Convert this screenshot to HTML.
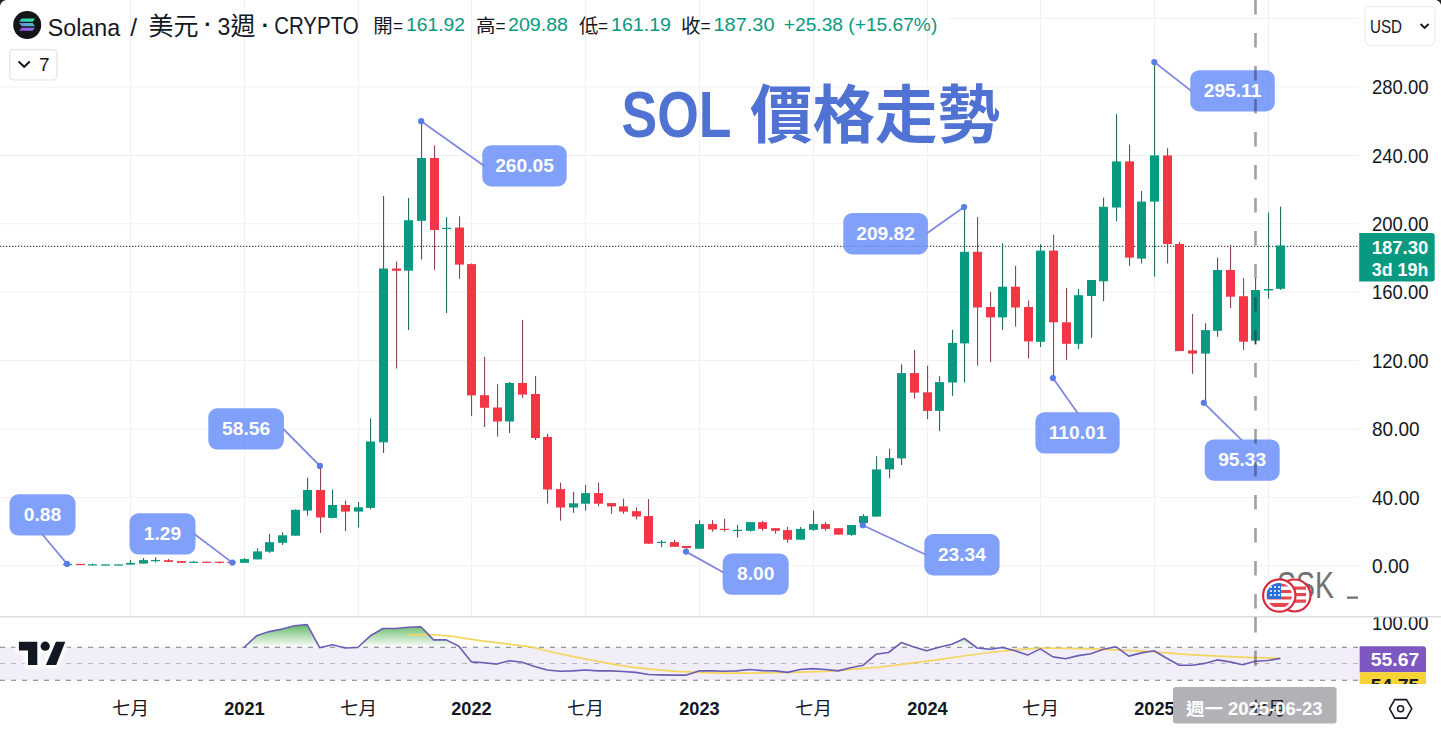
<!DOCTYPE html>
<html><head><meta charset="utf-8"><title>SOL 價格走勢</title>
<style>
html,body{margin:0;padding:0;background:#fff;}
body{width:1441px;height:729px;overflow:hidden;position:relative;font-family:"Liberation Sans","Noto Sans CJK TC",sans-serif;color:#131722;}
svg{position:absolute;left:0;top:0;}
.gr{stroke:#f0f1f4;stroke-width:1;}
.ct{font-family:"Liberation Sans",sans-serif;font-size:19.2px;font-weight:bold;fill:#fff;text-anchor:middle;}
.al{font-family:"Liberation Sans",sans-serif;font-size:19.6px;fill:#131722;}
.tly{font-family:"Liberation Sans",sans-serif;font-size:17.5px;font-weight:bold;fill:#131722;text-anchor:middle;}
.tlm{font-family:"Liberation Sans","Noto Sans CJK TC",sans-serif;font-size:18.5px;fill:#131722;text-anchor:middle;}
.hd{position:absolute;top:11px;white-space:nowrap;}
</style></head><body>
<svg width="1441" height="729" viewBox="0 0 1441 729">
<defs>
<linearGradient id="obg" x1="0" y1="622.6" x2="0" y2="647.3" gradientUnits="userSpaceOnUse">
<stop offset="0" stop-color="#4caf50" stop-opacity="0.95"/>
<stop offset="1" stop-color="#4caf50" stop-opacity="0"/>
</linearGradient>
<filter id="halo" x="-20%" y="-40%" width="140%" height="180%"><feGaussianBlur stdDeviation="1.6"/></filter>
<clipPath id="obc"><rect x="0" y="600" width="1359" height="47.3"/></clipPath>
<clipPath id="rsic"><rect x="0" y="617.5" width="1441" height="66.5"/></clipPath>
<clipPath id="mainc"><rect x="0" y="0" width="1359" height="616"/></clipPath>
<linearGradient id="solg" x1="0" y1="0" x2="1" y2="1">
<stop offset="0" stop-color="#3be0a8"/><stop offset="1" stop-color="#9a4cf0"/>
</linearGradient>
</defs>
<g clip-path="url(#mainc)">
<line x1="0" y1="565.75" x2="1359" y2="565.75" class="gr"/>
<line x1="0" y1="497.36" x2="1359" y2="497.36" class="gr"/>
<line x1="0" y1="428.97" x2="1359" y2="428.97" class="gr"/>
<line x1="0" y1="360.57" x2="1359" y2="360.57" class="gr"/>
<line x1="0" y1="292.18" x2="1359" y2="292.18" class="gr"/>
<line x1="0" y1="223.79" x2="1359" y2="223.79" class="gr"/>
<line x1="0" y1="155.4" x2="1359" y2="155.4" class="gr"/>
<line x1="0" y1="87.01" x2="1359" y2="87.01" class="gr"/>
<line x1="948" y1="18.61" x2="1359" y2="18.61" class="gr"/>
<line x1="130.5" y1="0" x2="130.5" y2="684" class="gr"/>
<line x1="244.5" y1="0" x2="244.5" y2="684" class="gr"/>
<line x1="358.5" y1="0" x2="358.5" y2="684" class="gr"/>
<line x1="471.5" y1="0" x2="471.5" y2="684" class="gr"/>
<line x1="585.5" y1="0" x2="585.5" y2="684" class="gr"/>
<line x1="699.5" y1="0" x2="699.5" y2="684" class="gr"/>
<line x1="813.5" y1="0" x2="813.5" y2="684" class="gr"/>
<line x1="927.5" y1="0" x2="927.5" y2="684" class="gr"/>
<line x1="1040.5" y1="0" x2="1040.5" y2="684" class="gr"/>
<line x1="1154.5" y1="0" x2="1154.5" y2="684" class="gr"/>
<line x1="1268.5" y1="0" x2="1268.5" y2="684" class="gr"/>
<line x1="0" y1="622.6" x2="1359" y2="622.6" class="gr"/>
<line x1="0" y1="246.4" x2="1359" y2="246.4" stroke="#4a4a4a" stroke-width="1.3" stroke-dasharray="1.3 1.7"/>
<rect x="67" y="563.6" width="1.1" height="1.4" fill="#22705f"/>
<rect x="63" y="563.9" width="9" height="1.2" fill="#089981"/>
<rect x="80" y="563.9" width="1.1" height="1.1" fill="#8b4656"/>
<rect x="76" y="563.9" width="9" height="1.2" fill="#f23645"/>
<rect x="92" y="563.5" width="1.1" height="1.8" fill="#22705f"/>
<rect x="88" y="564.3" width="9" height="1.2" fill="#089981"/>
<rect x="105" y="564.4" width="1.1" height="1" fill="#22705f"/>
<rect x="101" y="564.4" width="9" height="1.2" fill="#089981"/>
<rect x="118" y="564.4" width="1.1" height="1" fill="#22705f"/>
<rect x="114" y="564.4" width="9" height="1.2" fill="#089981"/>
<rect x="130" y="560" width="1.1" height="4.6" fill="#22705f"/>
<rect x="126" y="562.9" width="9" height="1.7" fill="#089981"/>
<rect x="143" y="558" width="1.1" height="5.6" fill="#22705f"/>
<rect x="139" y="560.1" width="9" height="3.5" fill="#089981"/>
<rect x="155" y="557.2" width="1.1" height="5.3" fill="#22705f"/>
<rect x="151" y="560" width="9" height="1.2" fill="#089981"/>
<rect x="168" y="558.9" width="1.1" height="3" fill="#8b4656"/>
<rect x="164" y="560.2" width="9" height="1.7" fill="#f23645"/>
<rect x="181" y="561.1" width="1.1" height="1.7" fill="#8b4656"/>
<rect x="177" y="561.1" width="9" height="1.7" fill="#f23645"/>
<rect x="193" y="561" width="1.1" height="2" fill="#22705f"/>
<rect x="189" y="561.7" width="9" height="1.2" fill="#089981"/>
<rect x="206" y="561.7" width="1.1" height="1.3" fill="#8b4656"/>
<rect x="202" y="561.7" width="9" height="1.2" fill="#f23645"/>
<rect x="219" y="561.7" width="1.1" height="1.8" fill="#8b4656"/>
<rect x="215" y="561.7" width="9" height="1.2" fill="#f23645"/>
<rect x="231" y="561.5" width="1.1" height="1.5" fill="#8b4656"/>
<rect x="227" y="561.8" width="9" height="1.2" fill="#f23645"/>
<rect x="244" y="558.1" width="1.1" height="4.7" fill="#22705f"/>
<rect x="240" y="559.1" width="9" height="3.7" fill="#089981"/>
<rect x="257" y="548.3" width="1.1" height="11.1" fill="#22705f"/>
<rect x="253" y="551.4" width="9" height="8" fill="#089981"/>
<rect x="269" y="533.9" width="1.1" height="18.9" fill="#22705f"/>
<rect x="265" y="542.2" width="9" height="9.5" fill="#089981"/>
<rect x="282" y="532.2" width="1.1" height="12.8" fill="#22705f"/>
<rect x="278" y="535.3" width="9" height="7.5" fill="#089981"/>
<rect x="295" y="509.3" width="1.1" height="26.4" fill="#22705f"/>
<rect x="291" y="509.8" width="9" height="25.9" fill="#089981"/>
<rect x="307" y="477.6" width="1.1" height="38" fill="#22705f"/>
<rect x="303" y="490" width="9" height="20.6" fill="#089981"/>
<rect x="320" y="466" width="1.1" height="66.9" fill="#8b4656"/>
<rect x="316" y="490" width="9" height="27.5" fill="#f23645"/>
<rect x="332" y="489.5" width="1.1" height="28.8" fill="#22705f"/>
<rect x="328" y="505" width="9" height="12.9" fill="#089981"/>
<rect x="345" y="500.6" width="1.1" height="30.4" fill="#8b4656"/>
<rect x="341" y="505" width="9" height="6.6" fill="#f23645"/>
<rect x="358" y="502" width="1.1" height="25.5" fill="#22705f"/>
<rect x="354" y="507.3" width="9" height="4.3" fill="#089981"/>
<rect x="370" y="418.5" width="1.1" height="90.8" fill="#22705f"/>
<rect x="366" y="441.5" width="9" height="66.4" fill="#089981"/>
<rect x="383" y="196" width="1.1" height="257" fill="#22705f"/>
<rect x="379" y="268.5" width="9" height="173.8" fill="#089981"/>
<rect x="396" y="261.5" width="1.1" height="107" fill="#8b4656"/>
<rect x="392" y="268.5" width="9" height="2.3" fill="#f23645"/>
<rect x="408" y="198" width="1.1" height="132" fill="#22705f"/>
<rect x="404" y="220.2" width="9" height="50.5" fill="#089981"/>
<rect x="421" y="120.5" width="1.1" height="139" fill="#22705f"/>
<rect x="417" y="158" width="9" height="62.8" fill="#089981"/>
<rect x="434" y="145.3" width="1.1" height="124.5" fill="#8b4656"/>
<rect x="430" y="158" width="9" height="72" fill="#f23645"/>
<rect x="446" y="217.2" width="1.1" height="95.8" fill="#22705f"/>
<rect x="442" y="227.8" width="9" height="1.2" fill="#089981"/>
<rect x="459" y="216.3" width="1.1" height="62.5" fill="#8b4656"/>
<rect x="455" y="227.5" width="9" height="37.1" fill="#f23645"/>
<rect x="471" y="263.5" width="1.1" height="152.5" fill="#8b4656"/>
<rect x="467" y="264.1" width="9" height="131.3" fill="#f23645"/>
<rect x="484" y="356.7" width="1.1" height="70.3" fill="#8b4656"/>
<rect x="480" y="395.2" width="9" height="12.6" fill="#f23645"/>
<rect x="497" y="384.2" width="1.1" height="52.4" fill="#8b4656"/>
<rect x="493" y="407.5" width="9" height="14" fill="#f23645"/>
<rect x="509" y="382" width="1.1" height="51" fill="#22705f"/>
<rect x="505" y="383" width="9" height="38.5" fill="#089981"/>
<rect x="522" y="319.9" width="1.1" height="78.1" fill="#8b4656"/>
<rect x="518" y="383" width="9" height="11.6" fill="#f23645"/>
<rect x="535" y="376" width="1.1" height="64" fill="#8b4656"/>
<rect x="531" y="394" width="9" height="44" fill="#f23645"/>
<rect x="547" y="433.8" width="1.1" height="69.7" fill="#8b4656"/>
<rect x="543" y="436.9" width="9" height="52.6" fill="#f23645"/>
<rect x="560" y="482.6" width="1.1" height="38" fill="#8b4656"/>
<rect x="556" y="489.1" width="9" height="18.4" fill="#f23645"/>
<rect x="573" y="492" width="1.1" height="20.9" fill="#22705f"/>
<rect x="569" y="503.3" width="9" height="4.2" fill="#089981"/>
<rect x="585" y="484.9" width="1.1" height="25.7" fill="#22705f"/>
<rect x="581" y="493.1" width="9" height="10.6" fill="#089981"/>
<rect x="598" y="482.6" width="1.1" height="23.8" fill="#8b4656"/>
<rect x="594" y="493.1" width="9" height="10.6" fill="#f23645"/>
<rect x="611" y="503.1" width="1.1" height="10.6" fill="#8b4656"/>
<rect x="607" y="503.1" width="9" height="3.3" fill="#f23645"/>
<rect x="623" y="498.7" width="1.1" height="15" fill="#8b4656"/>
<rect x="619" y="506.4" width="9" height="5.2" fill="#f23645"/>
<rect x="636" y="507.3" width="1.1" height="12.1" fill="#8b4656"/>
<rect x="632" y="511.2" width="9" height="5.3" fill="#f23645"/>
<rect x="648" y="499.1" width="1.1" height="44.6" fill="#8b4656"/>
<rect x="644" y="516.1" width="9" height="27.6" fill="#f23645"/>
<rect x="661" y="539.9" width="1.1" height="7.2" fill="#22705f"/>
<rect x="657" y="541.8" width="9" height="1.2" fill="#089981"/>
<rect x="674" y="539.9" width="1.1" height="6.9" fill="#8b4656"/>
<rect x="670" y="542.1" width="9" height="4.7" fill="#f23645"/>
<rect x="686" y="546" width="1.1" height="5.4" fill="#8b4656"/>
<rect x="682" y="546" width="9" height="2" fill="#f23645"/>
<rect x="699" y="520.2" width="1.1" height="28.5" fill="#22705f"/>
<rect x="695" y="524.1" width="9" height="24.6" fill="#089981"/>
<rect x="712" y="520.2" width="1.1" height="11.5" fill="#8b4656"/>
<rect x="708" y="524.1" width="9" height="5.4" fill="#f23645"/>
<rect x="724" y="518.8" width="1.1" height="12.9" fill="#8b4656"/>
<rect x="720" y="528.8" width="9" height="1.2" fill="#f23645"/>
<rect x="737" y="525" width="1.1" height="12.5" fill="#22705f"/>
<rect x="733" y="529.8" width="9" height="1.2" fill="#089981"/>
<rect x="750" y="522.1" width="1.1" height="9.4" fill="#22705f"/>
<rect x="746" y="522.1" width="9" height="8.7" fill="#089981"/>
<rect x="762" y="520.9" width="1.1" height="9.9" fill="#8b4656"/>
<rect x="758" y="522.2" width="9" height="6.7" fill="#f23645"/>
<rect x="775" y="528.2" width="1.1" height="5.5" fill="#8b4656"/>
<rect x="771" y="528.2" width="9" height="2.6" fill="#f23645"/>
<rect x="787" y="526.8" width="1.1" height="15.8" fill="#8b4656"/>
<rect x="783" y="530.1" width="9" height="9.6" fill="#f23645"/>
<rect x="800" y="527" width="1.1" height="12.7" fill="#22705f"/>
<rect x="796" y="528.9" width="9" height="10.8" fill="#089981"/>
<rect x="813" y="510.6" width="1.1" height="20.2" fill="#22705f"/>
<rect x="809" y="524.1" width="9" height="5.7" fill="#089981"/>
<rect x="825" y="522.2" width="1.1" height="8.6" fill="#8b4656"/>
<rect x="821" y="524.1" width="9" height="4.8" fill="#f23645"/>
<rect x="838" y="528.2" width="1.1" height="6.4" fill="#8b4656"/>
<rect x="834" y="528.2" width="9" height="6.4" fill="#f23645"/>
<rect x="851" y="525" width="1.1" height="10.9" fill="#22705f"/>
<rect x="847" y="525" width="9" height="9.9" fill="#089981"/>
<rect x="863" y="514.2" width="1.1" height="11.4" fill="#22705f"/>
<rect x="859" y="516.1" width="9" height="6.9" fill="#089981"/>
<rect x="876" y="456.2" width="1.1" height="60.4" fill="#22705f"/>
<rect x="872" y="469.4" width="9" height="47.2" fill="#089981"/>
<rect x="889" y="448.8" width="1.1" height="29.3" fill="#22705f"/>
<rect x="885" y="458.1" width="9" height="11.3" fill="#089981"/>
<rect x="901" y="364.3" width="1.1" height="100.7" fill="#22705f"/>
<rect x="897" y="373.1" width="9" height="85.3" fill="#089981"/>
<rect x="914" y="349.8" width="1.1" height="48.8" fill="#8b4656"/>
<rect x="910" y="373.1" width="9" height="19.5" fill="#f23645"/>
<rect x="927" y="365.7" width="1.1" height="53.5" fill="#8b4656"/>
<rect x="923" y="392.3" width="9" height="18.6" fill="#f23645"/>
<rect x="939" y="376.1" width="1.1" height="54.9" fill="#22705f"/>
<rect x="935" y="382.1" width="9" height="28.8" fill="#089981"/>
<rect x="952" y="329.9" width="1.1" height="65.9" fill="#22705f"/>
<rect x="948" y="342.9" width="9" height="39.6" fill="#089981"/>
<rect x="964" y="206.7" width="1.1" height="175.8" fill="#22705f"/>
<rect x="960" y="251.8" width="9" height="91.6" fill="#089981"/>
<rect x="977" y="217.1" width="1.1" height="148.5" fill="#8b4656"/>
<rect x="973" y="251.8" width="9" height="55.7" fill="#f23645"/>
<rect x="990" y="291.9" width="1.1" height="70.3" fill="#8b4656"/>
<rect x="986" y="307" width="9" height="10.4" fill="#f23645"/>
<rect x="1002" y="243.2" width="1.1" height="86.7" fill="#22705f"/>
<rect x="998" y="286.7" width="9" height="30.7" fill="#089981"/>
<rect x="1015" y="265.8" width="1.1" height="60.7" fill="#8b4656"/>
<rect x="1011" y="286.7" width="9" height="20.8" fill="#f23645"/>
<rect x="1028" y="300.5" width="1.1" height="58" fill="#8b4656"/>
<rect x="1024" y="307" width="9" height="34.4" fill="#f23645"/>
<rect x="1040" y="244.2" width="1.1" height="102.8" fill="#22705f"/>
<rect x="1036" y="250.6" width="9" height="91.2" fill="#089981"/>
<rect x="1053" y="234.7" width="1.1" height="143.3" fill="#8b4656"/>
<rect x="1049" y="250.6" width="9" height="71.7" fill="#f23645"/>
<rect x="1066" y="288" width="1.1" height="71.8" fill="#8b4656"/>
<rect x="1062" y="322.3" width="9" height="21.5" fill="#f23645"/>
<rect x="1078" y="289.2" width="1.1" height="59.8" fill="#22705f"/>
<rect x="1074" y="295.2" width="9" height="48.6" fill="#089981"/>
<rect x="1091" y="280" width="1.1" height="57.8" fill="#22705f"/>
<rect x="1087" y="280" width="9" height="16" fill="#089981"/>
<rect x="1103" y="197.6" width="1.1" height="103.6" fill="#22705f"/>
<rect x="1099" y="206.8" width="9" height="74.5" fill="#089981"/>
<rect x="1116" y="114.2" width="1.1" height="107.1" fill="#22705f"/>
<rect x="1112" y="161.4" width="9" height="46.1" fill="#089981"/>
<rect x="1129" y="144.6" width="1.1" height="121.2" fill="#8b4656"/>
<rect x="1125" y="161.4" width="9" height="96.2" fill="#f23645"/>
<rect x="1141" y="191" width="1.1" height="72.5" fill="#22705f"/>
<rect x="1137" y="201.6" width="9" height="57" fill="#089981"/>
<rect x="1154" y="61.5" width="1.1" height="215.2" fill="#22705f"/>
<rect x="1150" y="155.4" width="9" height="46.2" fill="#089981"/>
<rect x="1167" y="148.2" width="1.1" height="115.3" fill="#8b4656"/>
<rect x="1163" y="155.4" width="9" height="88.6" fill="#f23645"/>
<rect x="1179" y="241.9" width="1.1" height="109.2" fill="#8b4656"/>
<rect x="1175" y="244" width="9" height="107.1" fill="#f23645"/>
<rect x="1192" y="314" width="1.1" height="59.8" fill="#8b4656"/>
<rect x="1188" y="350.4" width="9" height="3.2" fill="#f23645"/>
<rect x="1205" y="323.2" width="1.1" height="79.3" fill="#22705f"/>
<rect x="1201" y="330.1" width="9" height="23.5" fill="#089981"/>
<rect x="1217" y="257.7" width="1.1" height="79.1" fill="#22705f"/>
<rect x="1213" y="270" width="9" height="60.8" fill="#089981"/>
<rect x="1230" y="244.8" width="1.1" height="63.1" fill="#8b4656"/>
<rect x="1226" y="270" width="9" height="26.7" fill="#f23645"/>
<rect x="1243" y="278.2" width="1.1" height="71.7" fill="#8b4656"/>
<rect x="1239" y="296.2" width="9" height="45.5" fill="#f23645"/>
<rect x="1255" y="278.2" width="1.1" height="66" fill="#22705f"/>
<rect x="1251" y="290" width="9" height="50.7" fill="#089981"/>
<rect x="1268" y="212.5" width="1.1" height="86.2" fill="#22705f"/>
<rect x="1264" y="289" width="9" height="1.5" fill="#089981"/>
<rect x="1280" y="206.6" width="1.1" height="83.3" fill="#22705f"/>
<rect x="1276" y="245.5" width="9" height="43.3" fill="#089981"/>
</g>
<!-- pane separator -->
<line x1="0" y1="616.8" x2="1441" y2="616.8" stroke="#dcdde0" stroke-width="1.6"/>
<!-- RSI pane -->
<g clip-path="url(#rsic)">
<rect x="0" y="647.3" width="1359" height="32.9" fill="#7e57c2" fill-opacity="0.1"/>
<line x1="0" y1="647.3" x2="1359" y2="647.3" stroke="#787b86" stroke-width="1.1" stroke-dasharray="5 6"/>
<line x1="0" y1="663.5" x2="1359" y2="663.5" stroke="#787b86" stroke-opacity="0.5" stroke-width="1.1" stroke-dasharray="5 6"/>
<line x1="0" y1="680.2" x2="1359" y2="680.2" stroke="#787b86" stroke-width="1.1" stroke-dasharray="5 6"/>
<path d="M243.96,647.3 L243.96,647.5 L256.6,635.8 L269.24,631.6 L281.88,629.1 L294.52,625.8 L307.16,624.6 L319.8,647.8 L332.44,644.8 L345.08,648 L357.72,647.5 L370.36,635.8 L383,628.5 L395.64,628.5 L408.28,627.3 L420.92,626.7 L433.56,639.9 L446.2,639.9 L458.84,646.3 L471.48,661.9 L484.12,662.8 L496.76,664.1 L509.4,660.7 L522.04,662.3 L534.68,666.4 L547.32,670 L559.96,671.3 L572.6,670.9 L585.24,670 L597.88,670.9 L610.52,670.9 L623.16,671.5 L635.8,672.4 L648.44,674.5 L661.08,674.9 L673.72,675.1 L686.36,675.1 L699,670.9 L711.64,670.9 L724.28,671.3 L736.92,670.9 L749.56,669.5 L762.2,670.6 L774.84,670.9 L787.48,672.4 L800.12,669.5 L812.76,668.6 L825.4,669.5 L838.04,670.9 L850.68,667.7 L863.32,665.2 L875.96,654.3 L888.6,652.5 L901.24,642.6 L913.88,647.1 L926.52,650.7 L939.16,647.3 L951.8,644.2 L964.44,638.5 L977.08,648 L989.72,649.3 L1002.36,647.5 L1015,650.7 L1027.64,655.1 L1040.28,648.9 L1052.92,656.9 L1065.56,658.8 L1078.2,655.6 L1090.84,653.8 L1103.48,649.3 L1116.12,646.8 L1128.76,656.1 L1141.4,652.9 L1154.04,650.7 L1166.68,658.3 L1179.32,665.3 L1191.96,665.3 L1204.6,663.4 L1217.24,659.9 L1229.88,661.9 L1242.52,664.8 L1255.16,661.3 L1267.8,660.5 L1280.44,658.4 L1280.44,647.3 Z" fill="url(#obg)" clip-path="url(#obc)"/>
<path d="M408.6,634.8 L429.3,634.5 L452.8,636.3 L479.8,640.6 L508.7,644.2 L532.2,647.1 L553.8,652.5 L577.3,657.4 L600.7,661.9 L622.4,665.9 L649.5,669.1 L676.5,671.3 L698.2,672.4 L720,673.1 L754,673.1 L790.2,672.4 L826.3,671.3 L853.4,669.1 L880.4,667 L907.5,663.7 L934.6,660.1 L967,655.5 L994.1,652 L1021.2,649.3 L1041,648 L1066.3,648.4 L1093.4,648.9 L1120.4,650.2 L1147.5,651.3 L1160,652.3 L1189,654.6 L1218.3,656.2 L1247.4,657.4 L1279.5,658.4" fill="none" stroke="#f3d660" stroke-width="1.7"/>
<path d="M243.96,647.5 L256.6,635.8 L269.24,631.6 L281.88,629.1 L294.52,625.8 L307.16,624.6 L319.8,647.8 L332.44,644.8 L345.08,648 L357.72,647.5 L370.36,635.8 L383,628.5 L395.64,628.5 L408.28,627.3 L420.92,626.7 L433.56,639.9 L446.2,639.9 L458.84,646.3 L471.48,661.9 L484.12,662.8 L496.76,664.1 L509.4,660.7 L522.04,662.3 L534.68,666.4 L547.32,670 L559.96,671.3 L572.6,670.9 L585.24,670 L597.88,670.9 L610.52,670.9 L623.16,671.5 L635.8,672.4 L648.44,674.5 L661.08,674.9 L673.72,675.1 L686.36,675.1 L699,670.9 L711.64,670.9 L724.28,671.3 L736.92,670.9 L749.56,669.5 L762.2,670.6 L774.84,670.9 L787.48,672.4 L800.12,669.5 L812.76,668.6 L825.4,669.5 L838.04,670.9 L850.68,667.7 L863.32,665.2 L875.96,654.3 L888.6,652.5 L901.24,642.6 L913.88,647.1 L926.52,650.7 L939.16,647.3 L951.8,644.2 L964.44,638.5 L977.08,648 L989.72,649.3 L1002.36,647.5 L1015,650.7 L1027.64,655.1 L1040.28,648.9 L1052.92,656.9 L1065.56,658.8 L1078.2,655.6 L1090.84,653.8 L1103.48,649.3 L1116.12,646.8 L1128.76,656.1 L1141.4,652.9 L1154.04,650.7 L1166.68,658.3 L1179.32,665.3 L1191.96,665.3 L1204.6,663.4 L1217.24,659.9 L1229.88,661.9 L1242.52,664.8 L1255.16,661.3 L1267.8,660.5 L1280.44,658.4" fill="none" stroke="#6c5db4" stroke-width="1.6" stroke-linejoin="round"/>
<!-- TV logo -->
<g filter="url(#halo)">
<path d="M18.9,641.8 H37.3 V664.9 H28 V650.6 H18.9 Z" fill="#fff" stroke="#fff" stroke-width="7" stroke-linejoin="round"/>
<circle cx="45.2" cy="646.2" r="8" fill="#fff"/>
<path d="M56,641.8 H65.3 L56.2,664.9 H45.9 Z" fill="#fff" stroke="#fff" stroke-width="7" stroke-linejoin="round"/>
</g>
<g>
<path d="M18.9,641.8 H37.3 V664.9 H28 V650.6 H18.9 Z" fill="#131722"/>
<circle cx="45.2" cy="646.2" r="4.6" fill="#131722"/>
<path d="M56,641.8 H65.3 L56.2,664.9 H45.9 Z" fill="#131722"/>
</g>
</g>
<!-- callouts -->
<g clip-path="url(#mainc)">
<line x1="41.6" y1="533.5" x2="67" y2="563.9" stroke="#8088e0" stroke-width="1.8"/>
<circle cx="67" cy="563.9" r="3.1" fill="#5a7ce6"/>
<line x1="193.6" y1="533.5" x2="232.3" y2="562.6" stroke="#8088e0" stroke-width="1.8"/>
<circle cx="232.3" cy="562.6" r="3.1" fill="#5a7ce6"/>
<line x1="283.4" y1="429" x2="319.9" y2="465.9" stroke="#8088e0" stroke-width="1.8"/>
<circle cx="319.9" cy="465.9" r="3.1" fill="#5a7ce6"/>
<line x1="484.3" y1="166" x2="421.2" y2="121.2" stroke="#8088e0" stroke-width="1.8"/>
<circle cx="421.2" cy="121.2" r="3.1" fill="#5a7ce6"/>
<line x1="724.4" y1="573" x2="686" y2="551.6" stroke="#8088e0" stroke-width="1.8"/>
<circle cx="686" cy="551.6" r="3.1" fill="#5a7ce6"/>
<line x1="926" y1="554.7" x2="862.8" y2="525.2" stroke="#8088e0" stroke-width="1.8"/>
<circle cx="862.8" cy="525.2" r="3.1" fill="#5a7ce6"/>
<line x1="926.6" y1="233.4" x2="964.1" y2="207" stroke="#8088e0" stroke-width="1.8"/>
<circle cx="964.1" cy="207" r="3.1" fill="#5a7ce6"/>
<line x1="1077.8" y1="413.2" x2="1052.9" y2="378" stroke="#8088e0" stroke-width="1.8"/>
<circle cx="1052.9" cy="378" r="3.1" fill="#5a7ce6"/>
<line x1="1191.5" y1="91.1" x2="1154.3" y2="62" stroke="#8088e0" stroke-width="1.8"/>
<circle cx="1154.3" cy="62" r="3.1" fill="#5a7ce6"/>
<line x1="1242" y1="440.3" x2="1203.8" y2="402.8" stroke="#8088e0" stroke-width="1.8"/>
<circle cx="1203.8" cy="402.8" r="3.1" fill="#5a7ce6"/>
<rect x="9.5" y="494.3" width="66" height="41.3" rx="9" fill="#6a8ff8" fill-opacity="0.85"/>
<text x="42.5" y="520.85" class="ct">0.88</text>
<rect x="129.5" y="513.3" width="66" height="41.3" rx="9" fill="#6a8ff8" fill-opacity="0.85"/>
<text x="162.5" y="539.85" class="ct">1.29</text>
<rect x="208.3" y="408.3" width="75.6" height="41.3" rx="9" fill="#6a8ff8" fill-opacity="0.85"/>
<text x="246.1" y="434.85" class="ct">58.56</text>
<rect x="482.3" y="145.2" width="84.4" height="41.3" rx="9" fill="#6a8ff8" fill-opacity="0.85"/>
<text x="524.5" y="171.75" class="ct">260.05</text>
<rect x="722.7" y="553.5" width="66" height="41.3" rx="9" fill="#6a8ff8" fill-opacity="0.85"/>
<text x="755.7" y="580.05" class="ct">8.00</text>
<rect x="924.3" y="534.1" width="75.3" height="41.3" rx="9" fill="#6a8ff8" fill-opacity="0.85"/>
<text x="961.95" y="560.65" class="ct">23.34</text>
<rect x="843.3" y="213.1" width="84.6" height="41.3" rx="9" fill="#6a8ff8" fill-opacity="0.85"/>
<text x="885.6" y="239.65" class="ct">209.82</text>
<rect x="1035.4" y="412.3" width="84.3" height="41.3" rx="9" fill="#6a8ff8" fill-opacity="0.85"/>
<text x="1077.55" y="438.85" class="ct">110.01</text>
<rect x="1190.3" y="70.2" width="84.5" height="41.3" rx="9" fill="#6a8ff8" fill-opacity="0.85"/>
<text x="1232.55" y="96.75" class="ct">295.11</text>
<rect x="1204.7" y="439.4" width="75" height="41.3" rx="9" fill="#6a8ff8" fill-opacity="0.85"/>
<text x="1242.2" y="465.95" class="ct">95.33</text>
</g>
<!-- crosshair -->
<line x1="1255.5" y1="0" x2="1255.5" y2="616" stroke="#202028" stroke-opacity="0.42" stroke-width="2.6" stroke-dasharray="14.5 18.5"/>
<line x1="1255.5" y1="617" x2="1255.5" y2="684" stroke="#202028" stroke-opacity="0.42" stroke-width="2.6" stroke-dasharray="15.5 18"/>
<!-- axis labels -->
<text x="1372" y="573.05" class="al" textLength="37.2" lengthAdjust="spacingAndGlyphs">0.00</text>
<text x="1372" y="504.66" class="al" textLength="47.6" lengthAdjust="spacingAndGlyphs">40.00</text>
<text x="1372" y="436.27" class="al" textLength="47.6" lengthAdjust="spacingAndGlyphs">80.00</text>
<text x="1372" y="367.87" class="al" textLength="56.6" lengthAdjust="spacingAndGlyphs">120.00</text>
<text x="1372" y="299.48" class="al" textLength="56.6" lengthAdjust="spacingAndGlyphs">160.00</text>
<text x="1372" y="231.09" class="al" textLength="56.6" lengthAdjust="spacingAndGlyphs">200.00</text>
<text x="1372" y="162.7" class="al" textLength="56.6" lengthAdjust="spacingAndGlyphs">240.00</text>
<text x="1372" y="94.31" class="al" textLength="56.6" lengthAdjust="spacingAndGlyphs">280.00</text>
<text x="1372" y="629.6" class="al" clip-path="url(#rsic)" textLength="56.6" lengthAdjust="spacingAndGlyphs">100.00</text>
<!-- last price label -->
<path d="M1359.2,233 H1431.7 Q1434.7,233 1434.7,236 V278.6 Q1434.7,281.6 1431.7,281.6 H1359.2 Z" fill="#089981"/>
<text x="1371.8" y="254" textLength="56.5" lengthAdjust="spacingAndGlyphs" style="font-family:'Liberation Sans',sans-serif;font-size:18.5px;font-weight:bold;fill:#fff">187.30</text>
<text x="1371.8" y="275.8" textLength="56.5" lengthAdjust="spacingAndGlyphs" style="font-family:'Liberation Sans',sans-serif;font-size:18.5px;font-weight:bold;fill:#fff">3d 19h</text>
<!-- RSI labels -->
<g clip-path="url(#rsic)">
<path d="M1359.6,646.3 H1423 Q1426,646.3 1426,649.3 V672.2 H1359.6 Z" fill="#7e57c2"/>
<text x="1370.8" y="666" textLength="48.5" lengthAdjust="spacingAndGlyphs" style="font-family:'Liberation Sans',sans-serif;font-size:18.3px;font-weight:bold;fill:#fff">55.67</text>
<path d="M1359.6,672.2 H1426 V692 H1359.6 Z" fill="#f7d335"/>
<text x="1370.8" y="692" textLength="48.5" lengthAdjust="spacingAndGlyphs" style="font-family:'Liberation Sans',sans-serif;font-size:18.3px;font-weight:bold;fill:#131722">54.75</text>
</g>
<!-- time axis -->
<text x="130.5" y="715" class="tlm" textLength="37" lengthAdjust="spacingAndGlyphs">七月</text>
<text x="244.5" y="715" class="tly" textLength="40.5" lengthAdjust="spacingAndGlyphs">2021</text>
<text x="358.5" y="715" class="tlm" textLength="37" lengthAdjust="spacingAndGlyphs">七月</text>
<text x="471.5" y="715" class="tly" textLength="40.5" lengthAdjust="spacingAndGlyphs">2022</text>
<text x="585.5" y="715" class="tlm" textLength="37" lengthAdjust="spacingAndGlyphs">七月</text>
<text x="699.5" y="715" class="tly" textLength="40.5" lengthAdjust="spacingAndGlyphs">2023</text>
<text x="813.5" y="715" class="tlm" textLength="37" lengthAdjust="spacingAndGlyphs">七月</text>
<text x="927.5" y="715" class="tly" textLength="40.5" lengthAdjust="spacingAndGlyphs">2024</text>
<text x="1040.5" y="715" class="tlm" textLength="37" lengthAdjust="spacingAndGlyphs">七月</text>
<text x="1154.5" y="715" class="tly" textLength="40.5" lengthAdjust="spacingAndGlyphs">2025</text>
<!-- tooltip -->
<rect x="1173" y="687" width="163.6" height="36.5" rx="3" fill="#b2b1b6"/>
<text x="1267.5" y="715" class="tlm" textLength="37" lengthAdjust="spacingAndGlyphs">七月</text>
<text x="1186" y="715" textLength="136.5" lengthAdjust="spacingAndGlyphs" style="font-family:'Liberation Sans','Noto Sans CJK TC',sans-serif;font-size:17.5px;font-weight:bold;fill:#fff">週一 2025-06-23</text>
<!-- settings hex -->
<path d="M1389.6,708.7 L1394.7,699.6 H1406.5 L1411.8,708.7 L1406.5,718.1 H1394.7 Z" fill="none" stroke="#131722" stroke-width="1.6" stroke-linejoin="round"/>
<circle cx="1400.6" cy="708.7" r="3" fill="none" stroke="#131722" stroke-width="1.5"/>
<!-- watermark SSK + flags -->
<text x="1277" y="597.5" textLength="57" lengthAdjust="spacingAndGlyphs" style="font-family:'Liberation Sans',sans-serif;font-size:36px;fill:#727272">SSK</text>
<rect x="1347" y="596.5" width="11" height="2.3" fill="#727272"/>
<g>
<circle cx="1294.5" cy="595.5" r="16" fill="#fff" stroke="#d52b3f" stroke-width="2.2"/>
<circle cx="1294.5" cy="595.5" r="12" fill="#fff"/>
<rect x="1283" y="586.5" width="23" height="3.2" fill="#e8474f"/>
<rect x="1283" y="593" width="23" height="3.2" fill="#e8474f"/>
<rect x="1283" y="599.5" width="23" height="3.2" fill="#e8474f"/>
<circle cx="1279.3" cy="595.5" r="16.2" fill="#fff" stroke="#d52b3f" stroke-width="2.2"/>
<clipPath id="flc"><circle cx="1279.3" cy="595.5" r="12.6"/></clipPath>
<g clip-path="url(#flc)">
<rect x="1265" y="582" width="30" height="28" fill="#fff"/>
<rect x="1265" y="583.5" width="30" height="3" fill="#e8474f"/>
<rect x="1265" y="590" width="30" height="3" fill="#e8474f"/>
<rect x="1265" y="596.5" width="30" height="3" fill="#e8474f"/>
<rect x="1265" y="603" width="30" height="4" fill="#e8474f"/>
<rect x="1265" y="582" width="16" height="17" fill="#2a6fd6"/>
<g fill="#fff"><circle cx="1271" cy="587" r="1"/><circle cx="1275" cy="587" r="1"/><circle cx="1279" cy="587" r="1"/><circle cx="1271" cy="591" r="1"/><circle cx="1275" cy="591" r="1"/><circle cx="1279" cy="591" r="1"/><circle cx="1271" cy="595" r="1"/><circle cx="1275" cy="595" r="1"/><circle cx="1279" cy="595" r="1"/></g>
</g>
</g>
<!-- header: logo -->
<linearGradient id="sg1" x1="19" y1="0" x2="35" y2="0" gradientUnits="userSpaceOnUse"><stop offset="0" stop-color="#36c2c8"/><stop offset="1" stop-color="#2cf09c"/></linearGradient>
<linearGradient id="sg2" x1="19" y1="0" x2="35" y2="0" gradientUnits="userSpaceOnUse"><stop offset="0" stop-color="#6a86e4"/><stop offset="1" stop-color="#48c4c4"/></linearGradient>
<linearGradient id="sg3" x1="19" y1="0" x2="35" y2="0" gradientUnits="userSpaceOnUse"><stop offset="0" stop-color="#a04cf2"/><stop offset="1" stop-color="#7c78e2"/></linearGradient>
<circle cx="27.2" cy="25" r="14" fill="#141518"/>
<path d="M21.6,18.6 H35.0 L32.6,21.7 H19.2 Z" fill="url(#sg1)"/>
<path d="M19.2,23.1 H32.6 L35.0,26.2 H21.6 Z" fill="url(#sg2)"/>
<path d="M21.6,27.7 H35.0 L32.6,30.8 H19.2 Z" fill="url(#sg3)"/>
<!-- "7" button -->
<rect x="9.8" y="49.6" width="47" height="30.4" rx="4" fill="#fff" stroke="#e4e4e6" stroke-width="1.2"/>
<path d="M18.6,61.6 L24.2,66.8 L29.8,61.6" fill="none" stroke="#131722" stroke-width="2"/>
<text x="39" y="71.2" style="font-family:'Liberation Sans',sans-serif;font-size:19px;fill:#131722">7</text>
<!-- USD -->
<rect x="1365" y="6.5" width="70" height="38.8" rx="5" fill="#fff" stroke="#ececee" stroke-width="1.2"/>
<text x="1370" y="33" textLength="32" lengthAdjust="spacingAndGlyphs" style="font-family:'Liberation Sans',sans-serif;font-size:18.6px;fill:#131722">USD</text>
<path d="M1420.6,24 L1424.6,28 L1428.6,24" fill="none" stroke="#131722" stroke-width="1.9"/>
<!-- header text -->
<text x="47.8" y="35.7" font-size="24.6" font-weight="normal" fill="#131722" font-family="Liberation Sans, Noto Sans CJK TC, sans-serif" textLength="72.3" lengthAdjust="spacingAndGlyphs">Solana</text>
<text x="130.2" y="35.7" font-size="24.6" font-weight="normal" fill="#131722" font-family="Liberation Sans, Noto Sans CJK TC, sans-serif">/</text>
<text x="148.5" y="35.2" font-size="25" font-weight="normal" fill="#131722" font-family="Liberation Sans, Noto Sans CJK TC, sans-serif" textLength="50" lengthAdjust="spacingAndGlyphs">美元</text>
<text x="202.0" y="32.7" font-size="32" font-weight="normal" fill="#131722" font-family="Liberation Sans, Noto Sans CJK TC, sans-serif">·</text>
<text x="217.6" y="35.4" font-size="24.8" font-weight="normal" fill="#131722" font-family="Liberation Sans, Noto Sans CJK TC, sans-serif" textLength="12.8" lengthAdjust="spacingAndGlyphs">3</text>
<text x="230.5" y="35.2" font-size="25" font-weight="normal" fill="#131722" font-family="Liberation Sans, Noto Sans CJK TC, sans-serif" textLength="25" lengthAdjust="spacingAndGlyphs">週</text>
<text x="259.5" y="34.3" font-size="32" font-weight="normal" fill="#131722" font-family="Liberation Sans, Noto Sans CJK TC, sans-serif">·</text>
<text x="274.2" y="33.9" font-size="24.6" font-weight="normal" fill="#131722" font-family="Liberation Sans, Noto Sans CJK TC, sans-serif" textLength="84.5" lengthAdjust="spacingAndGlyphs">CRYPTO</text>
<text x="373.2" y="33.4" font-size="19.5" font-weight="normal" fill="#131722" font-family="Liberation Sans, Noto Sans CJK TC, sans-serif" textLength="19.5" lengthAdjust="spacingAndGlyphs">開</text>
<text x="393" y="31.5" font-size="18" font-weight="normal" fill="#131722" font-family="Liberation Sans, Noto Sans CJK TC, sans-serif" textLength="10" lengthAdjust="spacingAndGlyphs">=</text>
<text x="406" y="31.0" font-size="18.2" font-weight="normal" fill="#089981" font-family="Liberation Sans, Noto Sans CJK TC, sans-serif" textLength="59" lengthAdjust="spacingAndGlyphs">161.92</text>
<text x="476" y="33.4" font-size="19.5" font-weight="normal" fill="#131722" font-family="Liberation Sans, Noto Sans CJK TC, sans-serif" textLength="19.5" lengthAdjust="spacingAndGlyphs">高</text>
<text x="495.5" y="31.5" font-size="18" font-weight="normal" fill="#131722" font-family="Liberation Sans, Noto Sans CJK TC, sans-serif" textLength="10" lengthAdjust="spacingAndGlyphs">=</text>
<text x="508" y="31.0" font-size="18.2" font-weight="normal" fill="#089981" font-family="Liberation Sans, Noto Sans CJK TC, sans-serif" textLength="60" lengthAdjust="spacingAndGlyphs">209.88</text>
<text x="579" y="33.4" font-size="19.5" font-weight="normal" fill="#131722" font-family="Liberation Sans, Noto Sans CJK TC, sans-serif" textLength="19.5" lengthAdjust="spacingAndGlyphs">低</text>
<text x="598" y="31.5" font-size="18" font-weight="normal" fill="#131722" font-family="Liberation Sans, Noto Sans CJK TC, sans-serif" textLength="10" lengthAdjust="spacingAndGlyphs">=</text>
<text x="611" y="31.0" font-size="18.2" font-weight="normal" fill="#089981" font-family="Liberation Sans, Noto Sans CJK TC, sans-serif" textLength="60" lengthAdjust="spacingAndGlyphs">161.19</text>
<text x="681" y="33.4" font-size="19.5" font-weight="normal" fill="#131722" font-family="Liberation Sans, Noto Sans CJK TC, sans-serif" textLength="19.5" lengthAdjust="spacingAndGlyphs">收</text>
<text x="700.5" y="31.5" font-size="18" font-weight="normal" fill="#131722" font-family="Liberation Sans, Noto Sans CJK TC, sans-serif" textLength="10" lengthAdjust="spacingAndGlyphs">=</text>
<text x="713.5" y="31.0" font-size="18.2" font-weight="normal" fill="#089981" font-family="Liberation Sans, Noto Sans CJK TC, sans-serif" textLength="61" lengthAdjust="spacingAndGlyphs">187.30</text>
<text x="783.8" y="31.0" font-size="18.2" font-weight="normal" fill="#089981" font-family="Liberation Sans, Noto Sans CJK TC, sans-serif" textLength="153.5" lengthAdjust="spacingAndGlyphs">+25.38 (+15.67%)</text>
<!-- Title -->
<text x="621.5" y="137" font-size="64" font-weight="bold" fill="#4f72d3" font-family="Liberation Sans, sans-serif" textLength="110" lengthAdjust="spacingAndGlyphs">SOL</text>
<text x="750" y="137.2" font-size="63" font-weight="bold" fill="#4f72d3" font-family="Noto Sans CJK TC, sans-serif" textLength="250" lengthAdjust="spacingAndGlyphs">價格走勢</text>
<!-- corners -->
<path d="M0,0 H6 Q1,1 0,6 Z" fill="#222"/>
<path d="M1441,0 H1436 Q1440,1 1441,5 Z" fill="#222"/>
</svg>
</body></html>
